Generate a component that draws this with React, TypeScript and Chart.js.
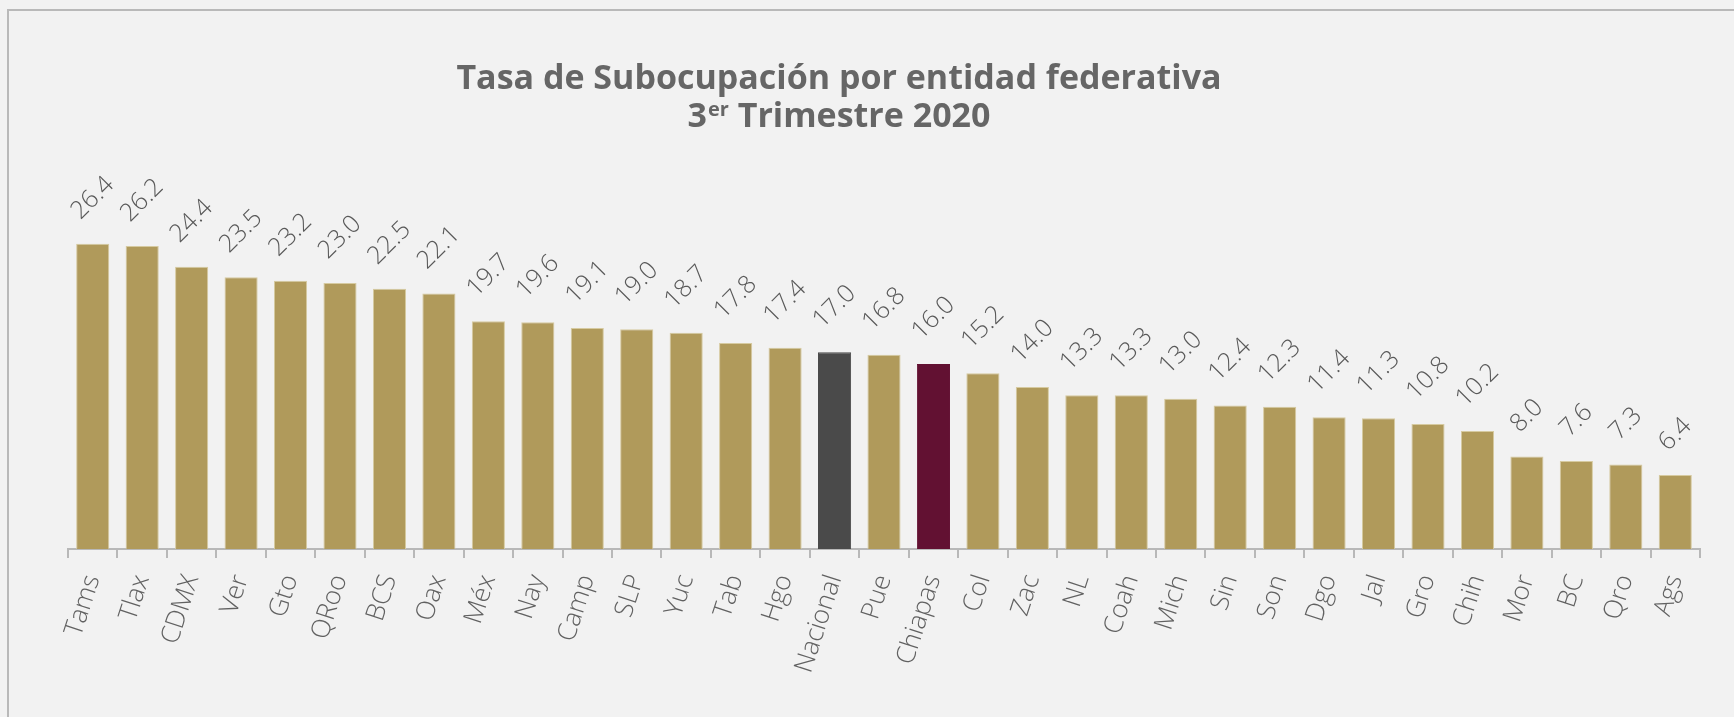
import { useEffect, useRef } from 'react';
import { Chart, registerables } from 'chart.js';

Chart.register(...registerables);

const categories = [
  'Tams', 'Tlax', 'CDMX', 'Ver', 'Gto', 'QRoo', 'BCS', 'Oax', 'Méx', 'Nay', 'Camp',
  'SLP', 'Yuc', 'Tab', 'Hgo', 'Nacional', 'Pue', 'Chiapas', 'Col', 'Zac', 'NL', 'Coah',
  'Mich', 'Sin', 'Son', 'Dgo', 'Jal', 'Gro', 'Chih', 'Mor', 'BC', 'Qro', 'Ags',
];

const values = [
  26.4, 26.2, 24.4, 23.5, 23.2, 23.0, 22.5, 22.1, 19.7, 19.6, 19.1,
  19.0, 18.7, 17.8, 17.4, 17.0, 16.8, 16.0, 15.2, 14.0, 13.3, 13.3,
  13.0, 12.4, 12.3, 11.4, 11.3, 10.8, 10.2, 8.0, 7.6, 7.3, 6.4,
];

const titleLine1 = 'Tasa de Subocupación por entidad federativa';
const titleLine2Num = '3';
const titleLine2Sup = 'er';
const titleLine2Rest = ' Trimestre 2020';

const GOLD = '#b09a5b';
const GOLD_BORDER = '#d6caa0';
const NATIONAL = '#4a4a4a';
const CHIAPAS = '#621132';

function barColor(cat: string) {
  if (cat === 'Nacional') return NATIONAL;
  if (cat === 'Chiapas') return CHIAPAS;
  return GOLD;
}
function barBorder(cat: string) {
  if (cat === 'Nacional') return NATIONAL;
  if (cat === 'Chiapas') return CHIAPAS;
  return GOLD_BORDER;
}

const valueLabelPlugin = {
  id: 'valueLabels',
  afterDatasetsDraw(chart: any) {
    const ctx = chart.ctx;
    const meta = chart.getDatasetMeta(0);
    ctx.save();
    ctx.font = '300 25px "Open Sans"';
    ctx.fillStyle = '#595959';
    ctx.textAlign = 'center';
    ctx.textBaseline = 'middle';
    meta.data.forEach((bar: any, i: number) => {
      const txt = values[i].toFixed(1);
      const w = ctx.measureText(txt).width;
      const h = 18;
      const off = 22 + ((w + h) * 0.7071) / 2;
      ctx.save();
      ctx.translate(bar.x, bar.y - off);
      ctx.rotate(-Math.PI / 4);
      ctx.fillText(txt, 0, 0);
      ctx.restore();
    });
    ctx.restore();
  },
};

const titlePlugin = {
  id: 'customTitle',
  afterDraw(chart: any) {
    const ctx = chart.ctx;
    const cx = 839;
    ctx.save();
    ctx.fillStyle = '#666666';
    ctx.textBaseline = 'alphabetic';
    ctx.textAlign = 'left';
    const mainFont = 'bold 34px "Open Sans"';
    const supFont = 'bold 20px "Open Sans"';
    ctx.font = mainFont;
    const w1 = ctx.measureText(titleLine1).width;
    ctx.fillText(titleLine1, cx - w1 / 2, 89);
    const wNum = ctx.measureText(titleLine2Num).width;
    const wRest = ctx.measureText(titleLine2Rest).width;
    ctx.font = supFont;
    const wSup = ctx.measureText(titleLine2Sup).width;
    const total = wNum + wSup + 1 + wRest;
    let x = cx - total / 2;
    ctx.font = mainFont;
    ctx.fillText(titleLine2Num, x, 127);
    x += wNum + 1;
    ctx.font = supFont;
    ctx.fillText(titleLine2Sup, x, 116);
    x += wSup;
    ctx.font = mainFont;
    ctx.fillText(titleLine2Rest, x, 127);
    ctx.restore();
  },
};

export default function App() {
  const ref = useRef<HTMLCanvasElement | null>(null);

  useEffect(() => {
    document.body.style.margin = '0';
    const canvas = ref.current;
    if (!canvas) return;
    const chart = new Chart(canvas, {
      type: 'bar',
      data: {
        labels: categories,
        datasets: [
          {
            data: values,
            backgroundColor: categories.map(barColor),
            borderColor: categories.map(barBorder),
            borderWidth: 1,
            barPercentage: 0.67,
            categoryPercentage: 1,
          },
        ],
      },
      options: {
        animation: false,
        responsive: false,
        devicePixelRatio: 1,
        layout: { padding: { left: 68, right: 34, top: 202, bottom: 0 } },
        plugins: {
          legend: { display: false },
          title: { display: false },
          tooltip: { enabled: false },
        },
        scales: {
          x: {
            grid: {
              offset: true,
              drawOnChartArea: false,
              drawTicks: true,
              tickLength: 9,
              color: '#b8b8b8',
              lineWidth: 2,
            },
            border: { display: true, color: '#b8b8b8', width: 2 },
            ticks: {
              autoSkip: false,
              minRotation: 72,
              maxRotation: 72,
              padding: 13,
              color: '#616161',
              font: { family: '"Open Sans"', size: 26, weight: 300 as any },
            },
            afterFit: (scale: any) => {
              scale.height = 168;
            },
          },
          y: {
            display: false,
            min: 0,
            max: 30,
          },
        },
      },
      plugins: [valueLabelPlugin, titlePlugin],
    });
    return () => chart.destroy();
  }, []);

  return (
    <div
      style={{
        position: 'fixed',
        left: 0,
        top: 0,
        width: 1734,
        height: 717,
        background: '#f2f2f2',
        overflow: 'hidden',
      }}
    >
      <div
        style={{
          position: 'absolute',
          left: 7,
          top: 9,
          width: 1800,
          height: 800,
          borderTop: '2px solid #b9b9b9',
          borderLeft: '2px solid #b9b9b9',
        }}
      />
      <canvas ref={ref} width={1734} height={717} style={{ position: 'absolute', left: 0, top: 0 }} />
    </div>
  );
}
